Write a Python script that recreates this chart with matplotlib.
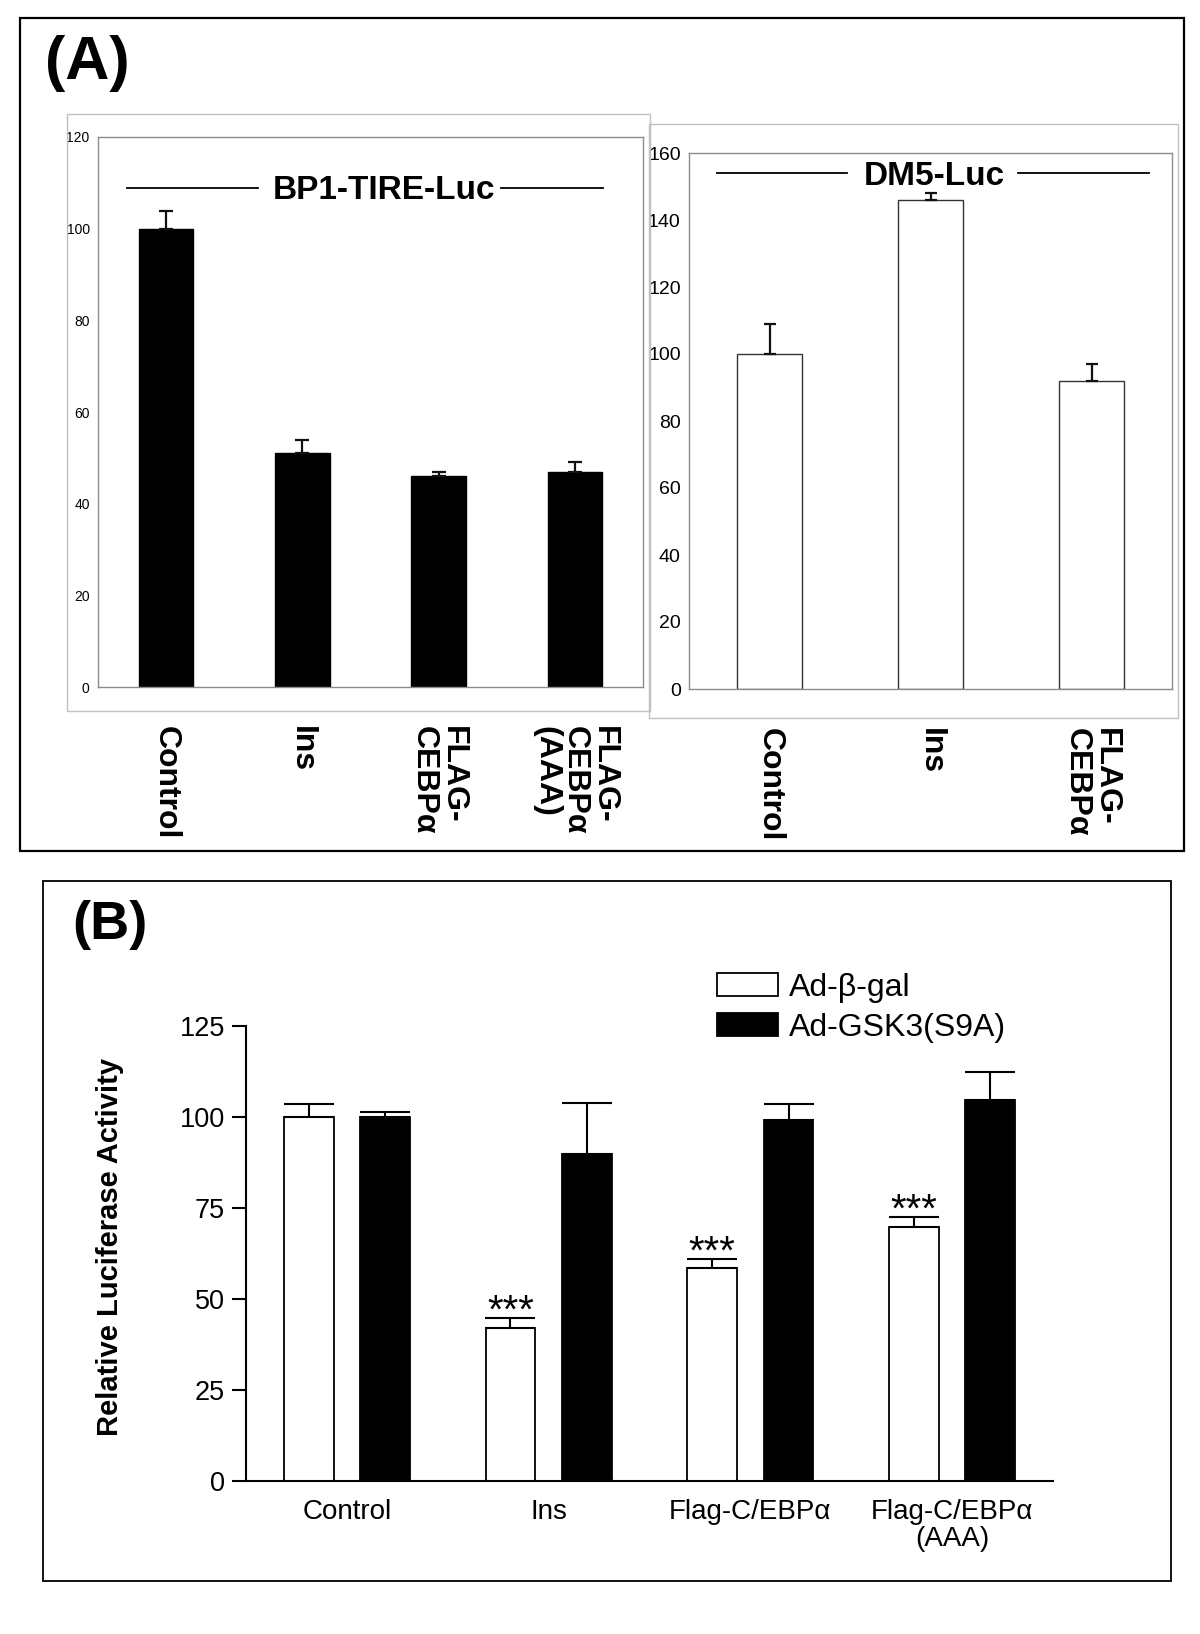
import matplotlib
matplotlib.use("Agg")
import matplotlib.pyplot as plt
import matplotlib.patches as mpatches
import numpy as np

plt.rcParams['font.family'] = ['Liberation Sans', 'DejaVu Sans']
NARROW = ['Liberation Sans Narrow', 'Liberation Sans', 'DejaVu Sans']

# panel A, left chart
bp1_labels = ["Control", "Ins", "FLAG-\nCEBPα", "FLAG-\nCEBPα\n(AAA)"]
bp1_vals = [100, 51, 46, 47]
bp1_err = [3.9, 3.0, 0.9, 2.0]
bp1_ticks = [0, 20, 40, 60, 80, 100, 120]

# panel A, right chart
dm5_labels = ["Control", "Ins", "FLAG-\nCEBPα"]
dm5_vals = [100, 146, 92]
dm5_err = [9, 2, 5]
dm5_ticks = [0, 20, 40, 60, 80, 100, 120, 140, 160]

# panel B
b_groups = ["Control", "Ins", "Flag-C/EBPα", "Flag-C/EBPα\n(AAA)"]
b_gal = [100, 42.1, 58.6, 69.8]
b_gal_err = [3.5, 2.6, 2.5, 2.7]
b_gsk = [100, 89.8, 99.3, 104.6]
b_gsk_err = [1.5, 14.1, 4.2, 7.9]
b_stars = ["", "***", "***", "***"]
b_ticks = [0, 25, 50, 75, 100, 125]

W, H = 1200, 1634


def rect(l, t, r, b):
    return [l / W, 1 - b / H, (r - l) / W, (b - t) / H]


def frame(fig, l, t, r, b, **kw):
    p = mpatches.Rectangle((l / W, 1 - b / H), (r - l) / W, (b - t) / H,
                           transform=fig.transFigure, fill=False, **kw)
    fig.patches.append(p)


def excel_panel(ax, labels, vals, errs, ticks, face, edge, capsize,
                ticksize, title, tx, ty, lines):
    x = np.arange(len(vals))
    ax.bar(x, vals, 0.4, color=face, edgecolor=edge, linewidth=1.0, zorder=2)
    ax.errorbar(x, vals, yerr=[np.zeros(len(errs)), errs], fmt='none',
                ecolor='#111111', elinewidth=1.6, capsize=capsize,
                capthick=1.6, zorder=3)
    ax.set_xlim(-0.5, len(vals) - 0.5)
    ax.set_ylim(ticks[0], ticks[-1])
    ax.set_yticks(ticks)
    ax.set_yticklabels([str(t) for t in ticks], family=NARROW,
                       fontsize=ticksize)
    ax.set_xticks(x)
    ax.set_xticklabels(labels, rotation=270, fontsize=23, fontweight='bold',
                       va='top', ha='center', multialignment='left',
                       linespacing=0.95)
    ax.tick_params(axis='both', length=0)
    ax.tick_params(axis='y', pad=6)
    ax.tick_params(axis='x', pad=28)
    for s in ax.spines.values():
        s.set_color('#8c8c8c')
        s.set_linewidth(1.0)
    ax.text(tx, ty, title, transform=ax.transAxes, ha='center', va='center',
            fontsize=24, fontweight='bold')
    for x0, x1, y in lines:
        ax.plot([x0, x1], [y, y], transform=ax.transAxes, color='k', lw=1.3)


def main():
    fig = plt.figure(figsize=(12, 16.34), dpi=100)

    # panel frames and chart-area boxes
    frame(fig, 20, 18, 1184, 851, edgecolor='k', linewidth=1.6)
    frame(fig, 42.5, 880.5, 1171, 1581, edgecolor='k', linewidth=1.3)
    frame(fig, 66.5, 114, 650, 711, edgecolor='#c0c0c0', linewidth=1.0)
    frame(fig, 649, 124, 1178, 718, edgecolor='#c0c0c0', linewidth=1.0)

    fig.text(87 / W, 1 - 63 / H, "(A)", fontsize=44, fontweight='bold',
             ha='center', va='center')
    fig.text(109.5 / W, 1 - 925 / H, "(B)", fontsize=39, fontweight='bold',
             ha='center', va='center')

    ax1 = fig.add_axes(rect(98, 137, 643, 687))
    excel_panel(ax1, bp1_labels, bp1_vals, bp1_err, bp1_ticks, 'k', 'k', 5,
                10, "BP1-TIRE-Luc", 0.524, 0.9025,
                [(0.054, 0.293, 0.908), (0.740, 0.927, 0.908)])

    ax2 = fig.add_axes(rect(689, 153, 1172, 689))
    excel_panel(ax2, dm5_labels, dm5_vals, dm5_err, dm5_ticks, 'white',
                '#333333', 4, 14, "DM5-Luc", 0.507, 0.956,
                [(0.057, 0.328, 0.9625), (0.682, 0.952, 0.9625)])

    # panel B
    ax3 = fig.add_axes(rect(246, 1026, 1053, 1481))
    x = np.arange(len(b_groups))
    off, w = 0.189, 0.246
    gal = ax3.bar(x - off, b_gal, w, color='white', edgecolor='k',
                  linewidth=1.3, label="Ad-β-gal", zorder=2)
    gsk = ax3.bar(x + off, b_gsk, w, color='k', edgecolor='k',
                  linewidth=1.3, label="Ad-GSK3(S9A)", zorder=2)
    ax3.errorbar(x - off, b_gal, yerr=[np.zeros(4), b_gal_err], fmt='none',
                 ecolor='k', elinewidth=1.5, capsize=18, capthick=1.5)
    ax3.errorbar(x + off, b_gsk, yerr=[np.zeros(4), b_gsk_err], fmt='none',
                 ecolor='k', elinewidth=1.5, capsize=18, capthick=1.5)
    for xi, v, e, s in zip(x - off, b_gal, b_gal_err, b_stars):
        ax3.text(xi, v + e - 1.3, s, ha='center', va='baseline', fontsize=29)
    ax3.set_xlim(-0.5, 3.5)
    ax3.set_ylim(0, 125)
    ax3.set_yticks(b_ticks)
    ax3.set_yticklabels([str(t) for t in b_ticks], fontsize=19.5)
    ax3.set_xticks(x)
    ax3.set_xticklabels(b_groups, fontsize=20, linespacing=1.05)
    ax3.tick_params(axis='y', length=10, width=1.5, pad=5)
    ax3.tick_params(axis='x', length=0, pad=13)
    ax3.spines['top'].set_visible(False)
    ax3.spines['right'].set_visible(False)
    ax3.spines['left'].set_linewidth(1.5)
    ax3.spines['bottom'].set_linewidth(1.5)
    fig.text(110 / W, 1 - 1247 / H, "Relative Luciferase Activity",
             rotation=90, ha='center', va='center', fontsize=21,
             fontweight='bold')

    fig.legend(handles=[gal, gsk], loc='upper left',
               bbox_to_anchor=(717 / W, 1 - 973 / H), frameon=False,
               fontsize=23, handlelength=1.9, handleheight=0.72,
               handletextpad=0.35, labelspacing=0.3, borderpad=0,
               borderaxespad=0)

    fig.savefig("out.png", dpi=100)


if __name__ == "__main__":
    main()
